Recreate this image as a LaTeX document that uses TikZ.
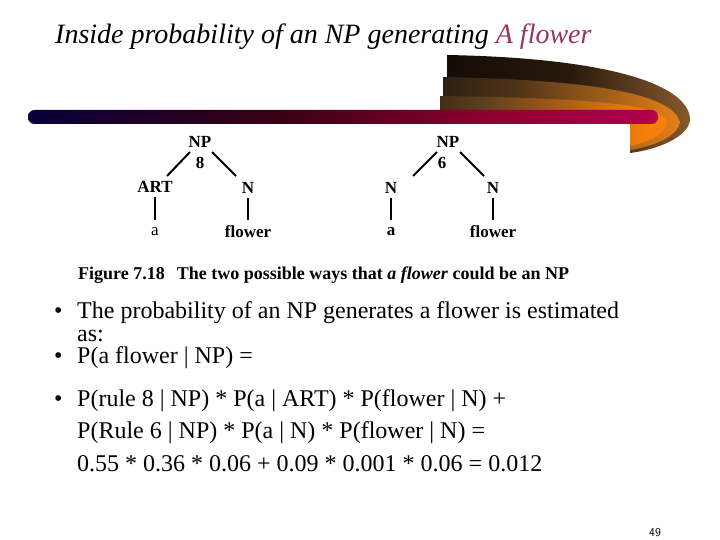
\documentclass[tikz,border=0pt]{standalone}
\usepackage{fontspec}
\setmainfont{Liberation Serif}
\usetikzlibrary{calc}
\definecolor{titlemag}{HTML}{993366}
\pgfdeclarehorizontalshading{barshade}{100bp}{
 color(0bp)=(black); color(22bp)=(black!75!blue); color(45bp)=(black!70!purple);
 color(62bp)=(purple!75!black); color(74bp)=(red!55!black!70!magenta); color(86bp)=(orange!85!red); color(100bp)=(yellow!75!orange)}
\pgfdeclarehorizontalshading{swA}{100bp}{
 color(0bp)=(black); color(50bp)=(black!80!brown); color(80bp)=(brown!80!black); color(100bp)=(brown!70!black)}
\pgfdeclarehorizontalshading{swB}{100bp}{
 color(0bp)=(black); color(40bp)=(black!60!brown); color(75bp)=(orange!60!brown); color(100bp)=(brown!80!black)}
\pgfdeclarehorizontalshading{swC}{100bp}{
 color(0bp)=(black); color(35bp)=(black!50!brown); color(70bp)=(orange!85!brown); color(100bp)=(orange!60!brown)}
\tikzset{
 treelab/.style={font=\bfseries\fontsize{17}{19}\selectfont, inner sep=1pt},
 edge/.style={line width=2pt, black},
 bul/.style={anchor=base west, font=\fontsize{24}{27}\selectfont, inner sep=0pt}
}
\begin{document}
\begin{tikzpicture}[x=1pt,y=-1pt]
\useasboundingbox (0,0) rectangle (720,540);
\fill[white] (0,0) rectangle (720,540);
% title
\node[anchor=base west, font=\itshape\fontsize{28}{30}\selectfont, inner sep=0pt] (title) at (55,44)
 {Inside probability of an NP generating \textcolor{titlemag}{A flower}};
% swoosh
\shade[shading=swA] (447,55) .. controls (610,58) and (690,85) .. (690,120) .. controls (688,138) and (655,150) .. (630,153) -- (630,117) -- (447,117) -- cycle;
\shade[shading=swB] (443,77) .. controls (600,80) and (672,95) .. (680,122) .. controls (678,136) and (655,146) .. (630,150) -- (630,117) -- (443,117) -- cycle;
\shade[shading=swC] (440,96) .. controls (580,98) and (660,103) .. (668,122) .. controls (665,134) and (650,142) .. (630,146) -- (630,117) -- (440,117) -- cycle;
% bar
\shade[shading=barshade, rounded corners=6.5pt] (28,110) rectangle (658,124);
% trees
\node[treelab] (np1) at (200,142) {NP};
\node[treelab] (r8) at (200,163) {8};
\node[treelab] (art) at (155,187) {ART};
\node[treelab] (n1) at (248,188) {N};
\node[treelab, font=\fontsize{17}{19}\selectfont] (a1) at (155,232) {a};
\node[treelab] (f1) at (248,232) {flower};
\draw[edge] (190,152) -- (167,176);
\draw[edge] (212,152) -- (236,176);
\draw[edge] (155,197) -- (155,220);
\draw[edge] (248,198) -- (248,220);
\node[treelab] (np2) at (448,142) {NP};
\node[treelab] (r6) at (442,163) {6};
\node[treelab] (n2) at (391,188) {N};
\node[treelab] (n3) at (493,188) {N};
\node[treelab] (a2) at (391,232) {a};
\node[treelab] (f2) at (493,232) {flower};
\draw[edge] (437,152) -- (413,176);
\draw[edge] (460,152) -- (484,176);
\draw[edge] (391,198) -- (391,220);
\draw[edge] (493,198) -- (493,220);
\node[anchor=base west, inner sep=0pt, font=\fontsize{18}{20}\selectfont] (cap) at (78,279)
 {\textbf{Figure 7.18}\hspace{12pt}\textbf{The two possible ways that \textit{a flower} could be an NP}};
% bullets
\node[bul] (b1) at (54,318) {\textbullet};
\node[bul] (t1) at (77,318) {The probability of an NP generates a flower is estimated};
\node[bul] (t1b) at (77,341) {as:};
\node[bul] (b2) at (54,363) {\textbullet};
\node[bul] (t2) at (77,363) {P(a flower | NP) =};
\node[bul] (b3) at (54,406) {\textbullet};
\node[bul] (t3) at (77,406) {P(rule 8 | NP) * P(a | ART) * P(flower | N) +};
\node[bul] (t3b) at (77,438) {P(Rule 6 | NP) * P(a | N) * P(flower | N) =};
\node[bul] (t3c) at (77,471) {0.55 * 0.36 * 0.06 + 0.09 * 0.001 * 0.06 = 0.012};
\node[font=\sffamily\fontsize{12}{14}\selectfont] (pg) at (655,533) {49};
\end{tikzpicture}
\end{document}
